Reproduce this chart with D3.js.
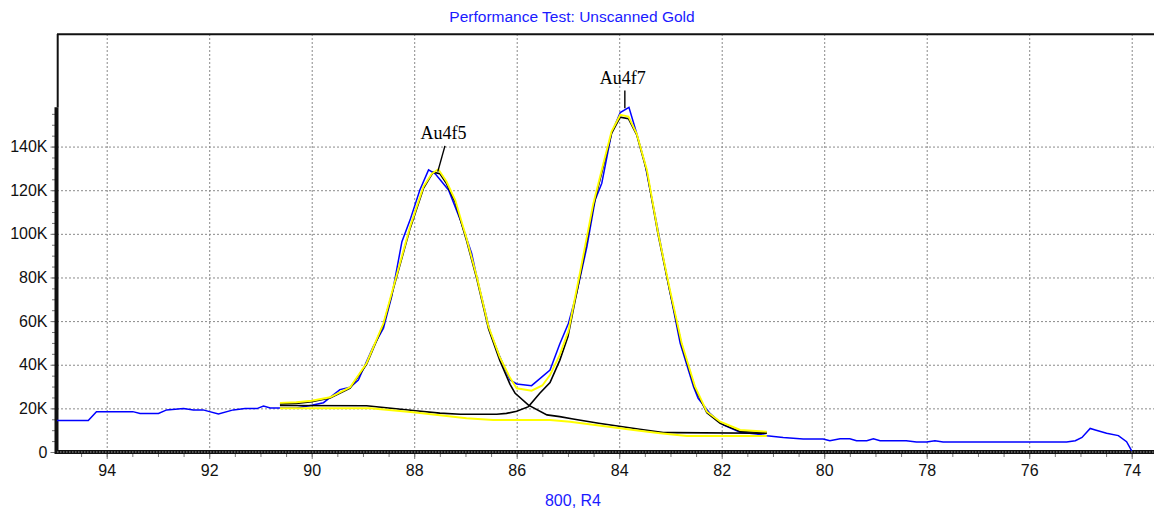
<!DOCTYPE html>
<meta charset="utf-8">
<style>
body { margin: 0; background: #fff; }
svg { display: block; font-family: "Liberation Sans", Arial, sans-serif; }
.grid line { stroke: #8a8a8a; stroke-dasharray: 2,2; }
.grid path { display: none; }
.axis path { display: none; }
.axis line { stroke: #777; }
.axis text { font-size: 16px; fill: #111; }
</style>

<svg width="1154" height="511"></svg>

<script src="https://d3js.org/d3.v7.min.js"></script>
<script>

// binding energy (eV), counts (K)
var rawData = [
  [94.97,14.4],[94.36,14.4],[94.2,18.5],[93.49,18.5],[93.35,17.7],[92.99,17.7],
  [92.83,19.3],[92.5,19.9],[92.31,19.3],[92.12,19.3],[91.82,17.4],[91.53,19.3],
  [91.3,19.9],[91.07,19.9],[90.94,21.1],[90.81,20.2],[90.3,20.2],[90.0,21.4],
  [89.77,22.6],[89.64,25.0],[89.45,28.6],[89.25,29.7],[89.09,33.0],[88.8,48.3],
  [88.6,56.7],[88.44,71.2],[88.24,96.4],[88.08,106.4],[87.89,120.1],[87.72,129.3],
  [87.59,127.5],[87.33,120.1],[87.1,106.4],[86.88,91.1],[86.78,80.4],[86.52,55.2],
  [86.33,43.7],[86.13,33.0],[86.0,31.2],[85.71,30.4],[85.35,37.6],[85.16,49.5],
  [84.99,59.0],[84.83,72.8],[84.63,94.1],[84.47,115.5],[84.34,123.2],[84.15,146.1],
  [83.98,155.6],[83.81,158.0],[83.66,146.1],[83.5,132.4],[83.27,104.9],[83.07,80.4],
  [82.81,49.8],[82.55,29.9],[82.46,24.6],[82.23,17.7],[81.97,12.4],[81.64,9.0],
  [81.32,8.3],[81.12,7.5],[80.8,6.7],[80.41,6.0],[80.02,6.0],[79.89,5.2],
  [79.69,6.1],[79.5,6.1],[79.37,5.2],[79.17,5.2],[79.04,6.1],[78.91,5.2],
  [78.4,5.2],[78.2,4.6],[78.0,4.6],[77.84,5.2],[77.68,4.6],[75.27,4.6],
  [75.1,5.2],[74.97,6.7],[74.81,10.8],[74.71,10.1],[74.49,8.6],[74.26,7.5],
  [74.1,4.7],[74.0,0.5]
];

// fitted envelope (yellow)
var envelope = [
  [90.62,22.5],[90.3,22.8],[90.0,23.5],[89.64,25.1],[89.25,29.7],[88.93,40.7],
  [88.6,59.0],[88.34,81.2],[88.08,103.3],[87.82,121.6],[87.66,127.5],[87.53,129.6],
  [87.37,124.0],[87.2,115.5],[86.98,98.0],[86.78,80.4],[86.55,57.5],[86.33,43.5],
  [86.13,34.0],[86.0,29.2],[85.71,28.1],[85.5,30.5],[85.35,35.3],[85.16,44.5],
  [84.99,55.5],[84.75,84.0],[84.51,113.3],[84.3,133.0],[84.15,146.9],[83.98,154.5],
  [83.82,153.7],[83.66,146.0],[83.46,129.3],[83.24,100.3],[83.01,74.3],[82.78,49.8],
  [82.52,29.9],[82.29,18.5],[82.03,13.9],[81.64,10.1],[81.12,9.3]
];

// background (yellow)
var background = [
  [90.62,20.0],[88.86,20.0],[88.02,18.2],[86.98,15.5],[86.46,14.7],[85.35,14.7],
  [84.96,13.9],[83.72,10.1],[83.2,8.6],[82.68,7.3],[81.12,7.3]
];

// component peaks on background (black)
var au4f5Comp = [
  [90.62,22.0],[90.3,22.3],[90.0,23.0],[89.64,24.8],[89.25,29.3],[88.93,40.2],
  [88.6,58.5],[88.34,80.5],[88.08,102.5],[87.82,120.8],[87.63,128.3],[87.5,127.6],
  [87.37,123.0],[87.2,114.5],[86.98,97.0],[86.78,79.5],[86.55,56.5],[86.33,42.0],
  [86.13,31.0],[86.03,26.9],[85.77,21.5],[85.41,17.0],[85.16,16.2],[84.9,15.1],
  [84.4,13.2],[83.6,10.4],[83.14,8.9],[82.94,8.9],[81.12,8.6]
];
var au4f7Comp = [
  [90.62,21.3],[88.93,21.2],[88.5,20.2],[88.02,19.0],[87.5,17.8],[87.1,17.3],
  [86.39,17.3],[86.2,17.7],[86.0,18.7],[85.77,20.8],[85.55,26.9],[85.35,31.8],
  [85.16,42.0],[85.0,52.9],[84.75,82.5],[84.51,112.0],[84.3,132.0],[84.15,146.0],
  [83.98,153.5],[83.82,152.8],[83.66,145.5],[83.46,128.5],[83.24,99.5],[83.01,73.5],
  [82.78,49.0],[82.52,29.2],[82.29,18.0],[82.03,13.1],[81.64,9.4],[81.12,8.9]
];

var xTicks = [94,92,90,88,86,84,82,80,78,76,74];
var yTicks = [0,20,40,60,80,100,120,140];

var peakLabels = [
  {name: "Au4f5", be: 87.43, k: 143.5, lineFrom: [87.40,140.3], lineTo: [87.54,128.5]},
  {name: "Au4f7", be: 83.93, k: 168.7, lineFrom: [83.89,165.7], lineTo: [83.89,157.6]}
];

var svg = d3.select("svg"),
    plotL = 57, plotR = 1154, plotT = 34, plotB = 452;

var x = d3.scaleLinear().domain([94.97, 73.565]).range([plotL, plotR]);
var y = d3.scaleLinear().domain([0, 191.6]).range([plotB, plotT]);

// gridlines
svg.append("g")
    .attr("class", "grid")
    .attr("transform", "translate(0," + plotB + ")")
    .call(d3.axisBottom(x).tickValues(xTicks).tickSize(-(plotB - plotT)).tickFormat(""));

svg.append("g")
    .attr("class", "grid")
    .attr("transform", "translate(" + plotL + ",0)")
    .call(d3.axisLeft(y).tickValues(yTicks.slice(1)).tickSize(-(plotR - plotL)).tickFormat(""));

// minor ticks
svg.append("g")
    .attr("class", "axis")
    .attr("transform", "translate(0," + plotB + ")")
    .call(d3.axisBottom(x).tickValues(d3.range(94.5, 73.6, -0.5)).tickSize(5).tickFormat(""));

svg.append("g")
    .attr("class", "axis")
    .attr("transform", "translate(" + (plotL - 1) + ",0)")
    .call(d3.axisLeft(y).tickValues(d3.range(5, 160, 5)).tickSize(4).tickFormat(""));

// major ticks + labels
svg.append("g")
    .attr("class", "axis")
    .attr("transform", "translate(0," + plotB + ")")
    .call(d3.axisBottom(x).tickValues(xTicks).tickSize(7).tickPadding(5.5).tickFormat(d3.format("d")));

svg.append("g")
    .attr("class", "axis")
    .attr("transform", "translate(" + (plotL - 0.5) + ",0)")
    .call(d3.axisLeft(y).tickValues(yTicks).tickSize(6).tickPadding(3)
      .tickFormat(function(d) { return d === 0 ? "0" : d + "K"; }));

// frame: top border, left axis (thick lower part), bottom axis
svg.append("line")
    .attr("x1", plotL).attr("x2", plotR).attr("y1", plotT + 0.3).attr("y2", plotT + 0.3)
    .attr("stroke", "#111").attr("stroke-width", 2);

svg.append("line")
    .attr("x1", plotL + 0.7).attr("x2", plotL + 0.7).attr("y1", plotT).attr("y2", y(158))
    .attr("stroke", "#111").attr("stroke-width", 2);

svg.append("line")
    .attr("x1", plotL - 0.5).attr("x2", plotL - 0.5).attr("y1", y(158)).attr("y2", plotB + 2)
    .attr("stroke", "#111").attr("stroke-width", 4);

svg.append("line")
    .attr("x1", plotL).attr("x2", plotR).attr("y1", plotB).attr("y2", plotB)
    .attr("stroke", "#111").attr("stroke-width", 4);

svg.append("line")
    .attr("x1", plotL).attr("x2", plotR).attr("y1", plotB).attr("y2", plotB)
    .attr("stroke", "#9a9a9a").attr("stroke-width", 1.2).attr("stroke-dasharray", "1.5,1.5");

// curves
var line = d3.line()
    .x(function(d) { return x(d[0]); })
    .y(function(d) { return y(d[1]); });

svg.append("path")
    .attr("d", line(rawData))
    .attr("fill", "none").attr("stroke", "#0000ff").attr("stroke-width", 1.5);

// black components under the yellow fit, so they show as dark edges
[au4f5Comp, au4f7Comp].forEach(function(c) {
  svg.append("path")
      .attr("d", line(c))
      .attr("fill", "none").attr("stroke", "#000").attr("stroke-width", 1.6);
});

svg.append("path")
    .attr("d", line(envelope))
    .attr("fill", "none").attr("stroke", "#ffff00").attr("stroke-width", 1.9);

svg.append("path")
    .attr("d", line(background))
    .attr("fill", "none").attr("stroke", "#ffff00").attr("stroke-width", 2);

// peak labels
peakLabels.forEach(function(p) {
  svg.append("line")
      .attr("x1", x(p.lineFrom[0])).attr("y1", y(p.lineFrom[1]))
      .attr("x2", x(p.lineTo[0])).attr("y2", y(p.lineTo[1]))
      .attr("stroke", "#000").attr("stroke-width", 1.4);
  svg.append("text")
      .attr("x", x(p.be)).attr("y", y(p.k))
      .attr("text-anchor", "middle")
      .style("font-family", "'Liberation Serif', 'Times New Roman', serif")
      .style("font-size", "18px")
      .text(p.name);
});

// titles
svg.append("text")
    .attr("x", 572).attr("y", 22)
    .attr("text-anchor", "middle")
    .style("font-size", "15.5px").style("fill", "#1a1aff")
    .text("Performance Test: Unscanned Gold");

svg.append("text")
    .attr("x", 573).attr("y", 506)
    .attr("text-anchor", "middle")
    .style("font-size", "16px").style("fill", "#1a1aff")
    .text("800, R4");

</script>
